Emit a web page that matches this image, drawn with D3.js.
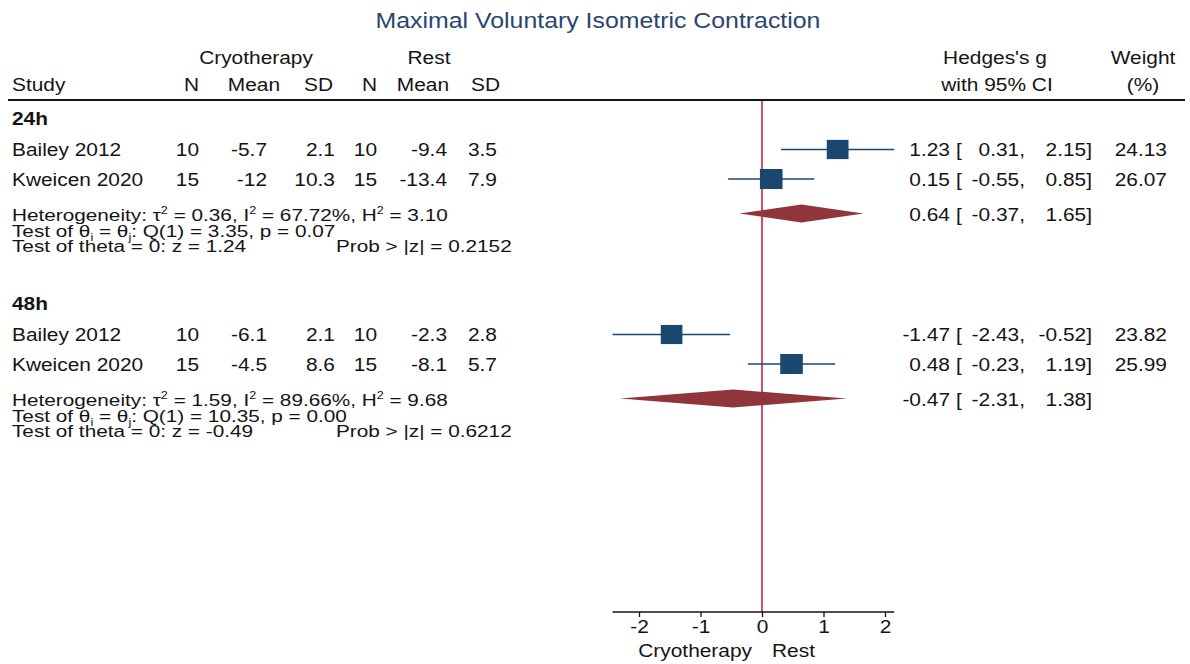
<!DOCTYPE html>
<html>
<head>
<meta charset="utf-8">
<script src="https://cdn.jsdelivr.net/npm/d3@7"></script>
<style>
  body { margin: 0; background: #fff; }
  svg { display: block; font-family: "Liberation Sans", Arial, sans-serif; }
</style>
</head>
<body>
<script>
// data
var groups = ['24h', '48h'];
var studies = ['Bailey 2012', 'Kweicen 2020'];
var cryoN = [[10, 15], [10, 15]];
var cryoMean = [[-5.7, -12], [-6.1, -4.5]];
var cryoSD = [[2.1, 10.3], [2.1, 8.6]];
var restN = [[10, 15], [10, 15]];
var restMean = [[-9.4, -13.4], [-2.3, -8.1]];
var restSD = [[3.5, 7.9], [2.8, 5.7]];
var es = [[1.23, 0.15], [-1.47, 0.48]];
var lo = [[0.31, -0.55], [-2.43, -0.23]];
var hi = [[2.15, 0.85], [-0.52, 1.19]];
var weight = [[24.13, 26.07], [23.82, 25.99]];
var overallEs = [0.64, -0.47];
var overallLo = [-0.37, -2.31];
var overallHi = [1.65, 1.38];
var tau2 = [0.36, 1.59];
var i2 = [67.72, 89.66];
var h2 = [3.10, 9.68];
var qStat = [3.35, 10.35];
var qP = [0.07, 0.00];
var zStat = [1.24, -0.49];
var zP = [0.2152, 0.6212];
var xTicks = [-2, -1, 0, 1, 2];

var W = 1190, H = 664;
var SX = 1.13;        // picture is a bit stretched sideways
var FS = 18.5;
var navy = '#1a476f', maroon = '#90353b', red = '#c0153e', ink = '#141414';

var svg = d3.select('body').append('svg')
  .attr('width', W)
  .attr('height', H)
  .attr('font-size', FS)
  .attr('fill', ink);

var x = d3.scaleLinear().domain([-2, 2]).range([639, 885]);

var groupTop = [125, 310];
function rowY(g, i) { return groupTop[g] + 31 + i * 29.5; }
function hetY(g) { return groupTop[g] + 95.5; }

function label(sel, px, py, s, anchor, sx) {
  return sel.append('text')
    .attr('transform', 'translate(' + px + ',' + py + ') scale(' + (sx || SX) + ',1)')
    .attr('text-anchor', anchor || 'start')
    .text(s);
}

// the heterogeneity notes are set a touch smaller and wider
var noteFS = 17.3, noteSX = 1.2;

function rich(sel, px, py, parts) {
  var t = label(sel, px, py, '', 'start', noteSX).attr('font-size', noteFS);
  var shift = 0;
  parts.forEach(function(p) {
    var want = p[1] === 'sup' ? -7 : (p[1] === 'sub' ? 4 : 0);
    t.append('tspan')
      .attr('dy', want - shift)
      .attr('font-size', p[1] ? 10.5 : null)
      .text(p[0]);
    shift = want;
  });
  return t;
}

function f2(v) { return v.toFixed(2); }

// title
label(svg, 598, 28, 'Maximal Voluntary Isometric Contraction', 'middle')
  .attr('font-size', 22)
  .attr('fill', '#2b4470');

// column headers
var colRight = [199, 267, 335, 377, 447, 497];
var headRight = [199, 280, 333, 377, 449, 500];
var colHead = ['N', 'Mean', 'SD', 'N', 'Mean', 'SD'];
var head = svg.append('g');
label(head, 256, 64, 'Cryotherapy', 'middle');
label(head, 429, 64, 'Rest', 'middle');
label(head, 12, 91, 'Study');
colHead.forEach(function(h, i) { label(head, headRight[i], 91, h, 'end'); });
label(head, 995, 64, "Hedges's g", 'middle');
label(head, 997, 91, 'with 95% CI', 'middle');
label(head, 1143, 64, 'Weight', 'middle');
label(head, 1143, 91, '(%)', 'middle');

svg.append('line')
  .attr('x1', 8).attr('x2', 1185)
  .attr('y1', 100).attr('y2', 100)
  .attr('stroke', ink).attr('stroke-width', 2);

// no-effect line
svg.append('line')
  .attr('x1', x(0)).attr('x2', x(0))
  .attr('y1', 101).attr('y2', 612)
  .attr('stroke', red).attr('stroke-width', 1.5);

var body = svg.append('g');

function ciText(y, e, l, h) {
  label(body, 950, y, f2(e), 'end');
  label(body, 956, y, '[');
  label(body, 1025, y, f2(l) + ',', 'end');
  label(body, 1092, y, f2(h) + ']', 'end');
}

groups.forEach(function(grp, g) {
  label(body, 12, groupTop[g], grp).attr('font-weight', 'bold');

  studies.forEach(function(st, i) {
    var y = rowY(g, i);
    var cols = [cryoN[g][i], cryoMean[g][i], cryoSD[g][i], restN[g][i], restMean[g][i], restSD[g][i]];
    label(body, 12, y, st);
    cols.forEach(function(v, c) { label(body, colRight[c], y, String(v), 'end'); });

    ciText(y, es[g][i], lo[g][i], hi[g][i]);
    label(body, 1167, y, f2(weight[g][i]), 'end');

    var yc = y - 6.5;
    body.append('line')
      .attr('x1', x(lo[g][i])).attr('x2', x(hi[g][i]))
      .attr('y1', yc).attr('y2', yc)
      .attr('stroke', navy).attr('stroke-width', 1.5);
    var side = 3.92 * Math.sqrt(weight[g][i]);
    body.append('rect')
      .attr('x', x(es[g][i]) - side * SX / 2)
      .attr('y', yc - side / 2)
      .attr('width', side * SX)
      .attr('height', side)
      .attr('fill', navy);
  });

  var hy = hetY(g);
  rich(body, 12, hy, [
    ['Heterogeneity: \u03c4'], ['2', 'sup'], [' = ' + f2(tau2[g]) + ', I'], ['2', 'sup'],
    [' = ' + f2(i2[g]) + '%, H'], ['2', 'sup'], [' = ' + f2(h2[g])]
  ]);
  rich(body, 12, hy + 16, [
    ['Test of \u03b8'], ['i', 'sub'], [' = \u03b8'], ['j', 'sub'],
    [': Q(1) = ' + f2(qStat[g]) + ', p = ' + f2(qP[g])]
  ]);
  rich(body, 12, hy + 31.5, [['Test of theta = 0: z = ' + f2(zStat[g])]]);
  rich(body, 336, hy + 31.5, [['Prob > |z| = ' + zP[g].toFixed(4)]]);

  ciText(hy, overallEs[g], overallLo[g], overallHi[g]);

  var dy = hy - 7;
  body.append('polygon')
    .attr('points', [
      [x(overallLo[g]), dy], [x(overallEs[g]), dy - 9],
      [x(overallHi[g]), dy], [x(overallEs[g]), dy + 9]
    ].map(function(p) { return p.join(','); }).join(' '))
    .attr('fill', maroon);
});

// axis, drawn over the range of the data like Stata does
var allLo = d3.min(lo.flat().concat(overallLo));
var allHi = d3.max(hi.flat().concat(overallHi));

var axis = svg.append('g')
  .attr('transform', 'translate(0,612)')
  .call(d3.axisBottom(x).tickValues(xTicks).tickSize(5).tickSizeOuter(0)
    .tickFormat(function(d) { return String(d); }));
axis.select('.domain').remove();
axis.append('line')
  .attr('x1', x(allLo)).attr('x2', x(allHi))
  .attr('stroke', ink).attr('stroke-width', 1.3);
axis.selectAll('.tick line').attr('stroke', ink).attr('stroke-width', 1.3);
axis.selectAll('.tick text')
  .attr('font-size', FS)
  .attr('font-family', '"Liberation Sans", Arial, sans-serif')
  .attr('fill', ink)
  .attr('transform', 'scale(' + SX + ',1)');

label(svg, x(0) - 10, 657, 'Cryotherapy', 'end');
label(svg, x(0) + 10, 657, 'Rest');
</script>
</body>
</html>
